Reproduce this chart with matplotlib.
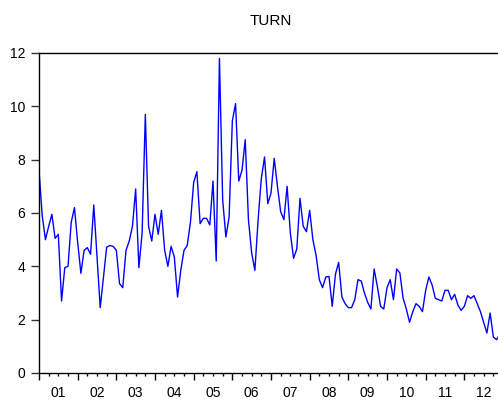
import matplotlib
matplotlib.use("Agg")
import matplotlib.pyplot as plt
import numpy as np
from matplotlib.ticker import FixedLocator, FixedFormatter

plt.rcParams['font.family'] = ['Liberation Sans', 'DejaVu Sans']

# Monthly turnover series, Jan 2001 - Dec 2012
turn = [
    7.6, 5.9, 5.0, 5.5, 5.95, 5.05, 5.2, 2.7, 3.95, 4.0, 5.65, 6.2,
    4.9, 3.74, 4.6, 4.7, 4.45, 6.3, 4.4, 2.45, 3.6, 4.72, 4.78, 4.75,
    4.6, 3.35, 3.2, 4.6, 4.95, 5.5, 6.9, 3.95, 5.25, 9.7, 5.5, 4.95,
    5.95, 5.2, 6.1, 4.6, 4.0, 4.75, 4.35, 2.85, 3.85, 4.6, 4.78, 5.65,
    7.15, 7.55, 5.6, 5.8, 5.8, 5.55, 7.2, 4.2, 11.8, 6.5, 5.1, 5.85,
    9.45, 10.1, 7.2, 7.6, 8.75, 5.75, 4.5, 3.85, 5.75, 7.3, 8.1, 6.35,
    6.75, 8.05, 7.0, 6.05, 5.75, 7.0, 5.25, 4.3, 4.65, 6.55, 5.5, 5.3,
    6.1, 5.0, 4.4, 3.5, 3.2, 3.6, 3.62, 2.5, 3.7, 4.15, 2.85, 2.6,
    2.45, 2.45, 2.75, 3.5, 3.45, 3.0, 2.65, 2.4, 3.9, 3.25, 2.5, 2.4,
    3.2, 3.5, 2.75, 3.9, 3.75, 2.8, 2.4, 1.9, 2.3, 2.6, 2.5, 2.3,
    3.1, 3.6, 3.3, 2.8, 2.75, 2.7, 3.1, 3.1, 2.75, 2.95, 2.55, 2.35,
    2.5, 2.9, 2.8, 2.9, 2.6, 2.3, 1.9, 1.5, 2.25, 1.35, 1.25, 1.45,
]
year_labels = ["01", "02", "03", "04", "05", "06", "07", "08", "09", "10", "11", "12"]
y_ticks = [0, 2, 4, 6, 8, 10, 12]

W, H = 498, 403
fig = plt.figure(figsize=(W / 100, H / 100), dpi=100)
left, right, bottom, top = 39, 503, 373, 53
ax = fig.add_axes([left / W, (H - bottom) / H, (right - left) / W, (bottom - top) / H])

months = np.arange(len(turn))
ax.plot(months, turn, color='#0000ff', lw=1.0)

ax.set_xlim(0, 12 * len(year_labels))
ax.set_ylim(0, 12)

ax.set_yticks(y_ticks)
ax.set_yticklabels([str(v) for v in y_ticks])

# year boundaries as major ticks, quarters as minor ticks, labels mid-year
n_years = len(year_labels)
ax.xaxis.set_major_locator(FixedLocator([12 * i for i in range(n_years + 1)]))
ax.xaxis.set_major_formatter(FixedFormatter([""] * (n_years + 1)))
minor_pos = [12 * i + q for i in range(n_years) for q in (3, 6, 9)]
minor_lab = [year_labels[p // 12] if p % 12 == 6 else "" for p in minor_pos]
ax.xaxis.set_minor_locator(FixedLocator(minor_pos))
ax.xaxis.set_minor_formatter(FixedFormatter(minor_lab))

ax.tick_params(axis='x', which='major', direction='out', length=5, width=1, color='black')
ax.tick_params(axis='x', which='minor', direction='out', length=2.5, width=1, color='black',
               pad=7, labelsize=10)
ax.tick_params(axis='y', which='major', direction='out', length=6, width=1, color='#333333',
               pad=4, labelsize=10)

for s in ['left', 'bottom', 'top']:
    ax.spines[s].set_linewidth(1.0)
    ax.spines[s].set_color('black')
ax.spines['right'].set_visible(False)

ax.set_title("TURN", fontsize=11, pad=20)

fig.savefig("out.png", dpi=100)
